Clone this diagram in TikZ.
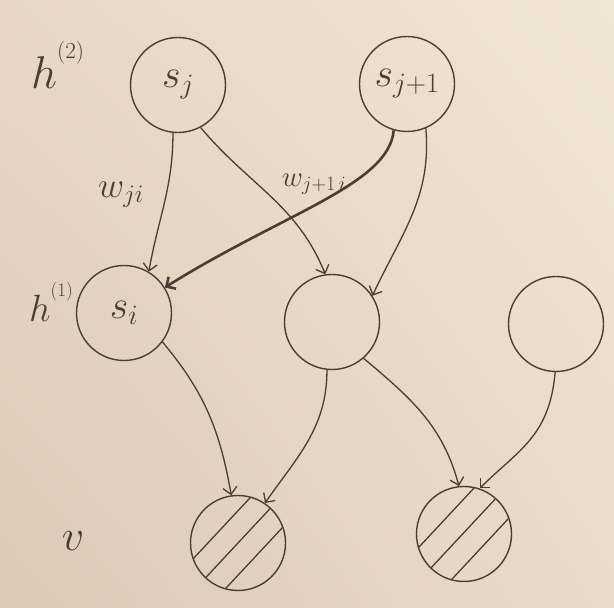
\RequirePackage{fix-cm}
\documentclass[tikz,border=0pt]{standalone}
\usetikzlibrary{arrows.meta,shadings}
\definecolor{ink}{RGB}{72,62,52}
\definecolor{paperUL}{RGB}{231,216,198}
\definecolor{paperUR}{RGB}{241,229,215}
\definecolor{paperLL}{RGB}{218,202,182}
\definecolor{paperLR}{RGB}{233,219,203}
\newcommand{\hsup}[1]{^{\raisebox{0.3em}{$\scriptscriptstyle(#1)$}}}
\begin{document}
\begin{tikzpicture}[x=1pt,y=1pt,
  unit/.style={circle,draw=ink,line width=1.4pt,minimum size=95pt,inner sep=0pt,
               text=ink,font=\fontsize{40}{40}\selectfont},
  link/.style={draw=ink,line width=1.3pt,-{Straight Barb[length=7pt,width=14pt]}},
  strong/.style={link,line width=2.6pt},
  layer/.style={text=ink,inner sep=0pt},
  weight/.style={text=ink,font=\fontsize{36}{36}\selectfont,inner sep=0pt},
  hatch/.style={draw=ink,line width=1.3pt}]
% paper
\shade[upper left=paperUL,upper right=paperUR,lower left=paperLL,lower right=paperLR]
  (0,0) rectangle (614,608);
\useasboundingbox (0,0) rectangle (614,608);

% top hidden layer
\node[unit] (sj)  at (178,523) {$s_j$};
\node[unit] (sj1) at (407,524) {$s_{j+1}$};
% first hidden layer
\node[unit] (si) at (124,295) {$s_i$};
\node[unit] (hm) at (332,286) {};
\node[unit] (hr) at (556,284) {};
% visible layer
\node[unit] (v1) at (238,65) {};
\node[unit] (v2) at (464,74) {};

% hatching of the observed units
\begin{scope}
  \clip (v1.center) circle (47pt);
  \begin{scope}[shift={(v1.center)},rotate=47]
    \foreach \d in {-22,0,22} \draw[hatch] (-60,\d) -- (60,\d);
  \end{scope}
\end{scope}
\begin{scope}
  \clip (v2.center) circle (47pt);
  \begin{scope}[shift={(v2.center)},rotate=47]
    \foreach \d in {-22,1,24} \draw[hatch] (-60,\d) -- (60,\d);
  \end{scope}
\end{scope}

% layer labels
\node[layer,font=\fontsize{46}{46}\selectfont,anchor=base west] (lh2) at (31,519) {$h\hsup{2}$};
\node[layer,font=\fontsize{38}{38}\selectfont,anchor=base west] (lh1) at (29,286) {$h\hsup{1}$};
\node[layer,font=\fontsize{44}{44}\selectfont] (lv) at (73,67) {$v$};

% connections
\draw[link] (sj.-96) to[out=-90,in=80] (si.59);
\draw[link] (sj.-62) to[out=-50,in=112] (hm.98);
\draw[strong] (sj1.-106) to[out=-95,in=32,out looseness=0.5,in looseness=1.3] (si.32);
\draw[link] (sj1.-67) to[out=-85,in=65] (hm.33);
\draw[link] (si.-37) to[out=-50,in=100] (v1.98);
\draw[link] (hm.-96) to[out=-90,in=55] (v1.56);
\draw[link] (hm.-49) to[out=-40,in=105] (v2.96);
\draw[link] (hr.-91) to[out=-95,in=45,out looseness=1.2] (v2.71);

% weights
\node[weight] (wji) at (121,413) {$w_{ji}$};
\node[weight,font=\fontsize{29}{29}\selectfont] (wj1i) at (314,424) {$w_{j+1\,i}$};
\end{tikzpicture}
\end{document}
